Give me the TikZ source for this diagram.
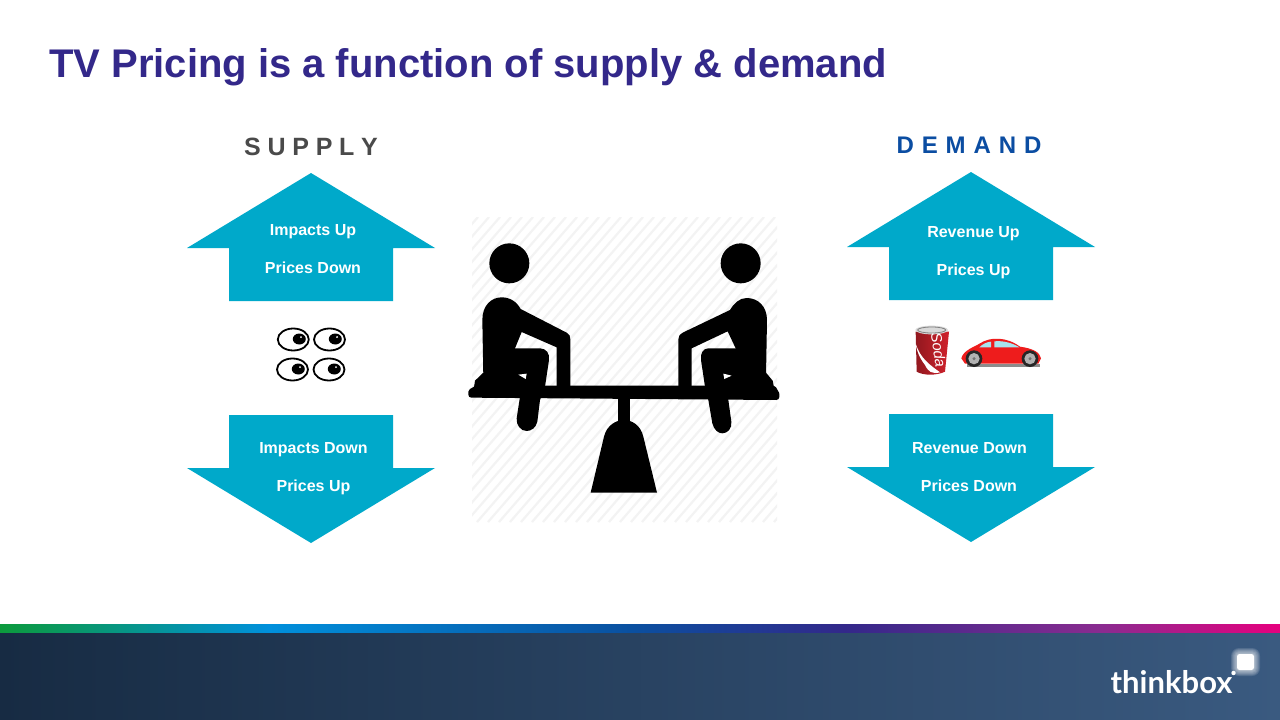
\documentclass[tikz,border=0pt]{standalone}
\usepackage{fontspec}
\setmainfont{Liberation Sans}
\newfontfamily\logofont{Lato}
\usetikzlibrary{calc}
\definecolor{titleblue}{HTML}{33288A}
\definecolor{arrowcyan}{HTML}{00A9CA}
\definecolor{supplygrey}{HTML}{4A4A4A}
\definecolor{demandblue}{HTML}{0B4DA2}
\definecolor{hatchgrey}{HTML}{F3F3F3}
\definecolor{canred}{HTML}{D0222C}
\definecolor{carred}{HTML}{EE1C1C}
\definecolor{windowblue}{HTML}{A8E4EE}
\definecolor{barA}{HTML}{0C9A3C}
\definecolor{barB}{HTML}{0090DC}
\definecolor{barC}{HTML}{0A50A0}
\definecolor{barD}{HTML}{33288A}
\definecolor{barE}{HTML}{8A2B90}
\definecolor{barF}{HTML}{E6007E}
\definecolor{bandA}{HTML}{172B43}
\definecolor{bandB}{HTML}{3A5A80}
\pgfdeclarehorizontalshading{barshade}{100bp}{
  color(0bp)=(barA);
  color(25bp)=(barA);
  color(35.5bp)=(barB);
  color(49.6bp)=(barC);
  color(58bp)=(barD);
  color(68bp)=(barE);
  color(75bp)=(barF);
  color(100bp)=(barF)}
\pgfdeclarehorizontalshading{bandshade}{100bp}{
  color(0bp)=(bandA);
  color(25bp)=(bandA);
  color(75bp)=(bandB);
  color(100bp)=(bandB)}
\tikzset{
  title text/.style={text=titleblue,font=\fontsize{40}{44}\bfseries\selectfont,anchor=base west,inner sep=0pt},
  head text/.style={font=\fontsize{25}{28}\bfseries\selectfont,inner sep=0pt,anchor=base},
  arrowlabel/.style={text=white,font=\fontsize{16}{18}\bfseries\selectfont,inner sep=0pt,anchor=base},
  block arrow/.style={fill=arrowcyan,draw=none},
  icon/.style={fill=black,draw=none},
  eye/.style={draw=black,line width=1.8pt,fill=white},
  pupil/.style={fill=black,draw=none}
}
\begin{document}
\begin{tikzpicture}[x=1pt,y=-1pt]
\useasboundingbox (0,0) rectangle (1280,720);
\fill[white] (0,0) rectangle (1280,720);
% title
\node[title text] (title) at (49,77) {TV Pricing is a function of supply \& demand};
\node[head text,text=supplygrey] (supply) at (311,155) {S\hspace{0.27em}U\hspace{0.27em}P\hspace{0.27em}P\hspace{0.27em}L\hspace{0.27em}Y};
\node[head text,text=demandblue,font=\fontsize{24}{28}\bfseries\selectfont] (demand) at (969,153.5) {D\hspace{0.33em}E\hspace{0.33em}M\hspace{0.33em}A\hspace{0.33em}N\hspace{0.33em}D};
% arrows
\fill[block arrow] (311,173) -- (435,248) -- (393,248) -- (393,301) -- (229,301) -- (229,248) -- (187,248) -- cycle;
\fill[block arrow] (311,543) -- (435,468) -- (393,468) -- (393,415) -- (229,415) -- (229,468) -- (187,468) -- cycle;
\fill[block arrow] (971,172) -- (1095,247) -- (1053,247) -- (1053,300) -- (889,300) -- (889,247) -- (847,247) -- cycle;
\fill[block arrow] (971,542) -- (1095,467) -- (1053,467) -- (1053,414) -- (889,414) -- (889,467) -- (847,467) -- cycle;
\node[arrowlabel] (l1) at (313,235.5) {Impacts Up};
\node[arrowlabel] (l2) at (313,273.5) {Prices Down};
\node[arrowlabel] (l3) at (313.5,453.5) {Impacts Down};
\node[arrowlabel] (l4) at (313.5,491.5) {Prices Up};
\node[arrowlabel] (r1) at (973.5,237.5) {Revenue Up};
\node[arrowlabel] (r2) at (973.5,275.5) {Prices Up};
\node[arrowlabel] (r3) at (969.5,453.5) {Revenue Down};
\node[arrowlabel] (r4) at (969,491.5) {Prices Down};
% hatch
\begin{scope}
\clip (472,217) rectangle (777,522);
\foreach \i in {0,11,...,605}{
  \draw[hatchgrey,line width=2.2pt] ({472-270+\i},522) -- ({472-270+\i+265},217);
}
\end{scope}
% seesaw
\begin{scope}[shift={(460,210)},x=0.33333pt,y=-0.33333pt]
\fill[icon] (148,160) circle [radius=60];
\fill[icon] (842,160) circle [radius=60];
% plank
\filldraw[icon,draw=black,line width=6pt,line join=round] (34,554) -- (34,545) -- (50,536) -- (940,536) -- (949,552) -- (949,561) -- cycle;
% post and base
\fill[icon] (473,560) rectangle (510,650);
\fill[icon] (392,848) -- (432,680) .. controls (440,645) and (470,630) .. (491,630) .. controls (515,630) and (542,645) .. (550,680) -- (591,848) -- cycle;
% left person: torso and arm
\fill[icon] (67,330) .. controls (67,285) and (95,262) .. (125,262)
  .. controls (150,262) and (170,275) .. (182,297) -- (320,368) .. controls (328,372) and (331,378) .. (331,388)
  -- (331,530) -- (290,530) -- (290,412) -- (185,366) -- (165,415) -- (165,500) -- (70,500) -- cycle;
% left leg
\fill[icon] (160,415) -- (240,415) .. controls (258,415) and (270,430) .. (267,450) -- (255,530) -- (240,570) -- (232,635)
  .. controls (228,655) and (212,663) .. (200,663) .. controls (182,663) and (168,645) .. (170,625)
  -- (180,560) -- (190,505) -- (160,490) -- cycle;
% left hip
\fill[icon] (70,488) -- (45,512) -- (42,532) -- (240,532) -- (205,488) -- cycle;
\fill[white] (175,494) -- (200,491) -- (197,507) -- cycle;
% right person: torso and arm
\fill[icon] (921,330) .. controls (921,290) and (895,264) .. (860,264)
  .. controls (838,264) and (822,280) .. (810,300) -- (668,368) .. controls (660,372) and (655,378) .. (655,388)
  -- (655,530) -- (695,530) -- (695,415) -- (803,364) -- (827,415) -- (827,500) -- (918,500) -- cycle;
% right leg
\fill[icon] (830,415) -- (745,415) .. controls (730,415) and (720,430) .. (723,450) -- (735,530) -- (745,570) -- (757,640)
  .. controls (762,660) and (775,670) .. (787,670) .. controls (803,670) and (817,655) .. (814,635)
  -- (805,570) -- (795,505) -- (830,490) -- cycle;
% right hip
\fill[icon] (918,488) -- (938,512) -- (942,532) -- (745,532) -- (785,488) -- cycle;
\fill[white] (790,491) -- (815,497) -- (793,507) -- cycle;
\end{scope}
% eyes
\draw[eye] (293.3,339.5) ellipse [x radius=15.5,y radius=11];
\draw[eye] (329.5,339.5) ellipse [x radius=15.5,y radius=11];
\draw[eye] (292.5,369.5) ellipse [x radius=15.5,y radius=11];
\draw[eye] (329,369.5) ellipse [x radius=15.5,y radius=11];
\fill[pupil] (299.3,339) ellipse [x radius=6.5,y radius=5.5];
\fill[pupil] (335.3,339) ellipse [x radius=6.5,y radius=5.5];
\fill[pupil] (298.3,369) ellipse [x radius=6.5,y radius=5.5];
\fill[pupil] (334.3,369) ellipse [x radius=6.5,y radius=5.5];
\fill[white] (301,337) circle [radius=1] (337,337) circle [radius=1] (300,367) circle [radius=1] (336,367) circle [radius=1];
% can and car
\begin{scope}[shift={(900,315)},x=0.33333pt,y=-0.33333pt]
% can
\shade[left color=canred!70!black,right color=canred] (47,50) -- (147,50) -- (135,170) .. controls (110,182) and (70,182) .. (50,170) -- cycle;
\fill[white] (47,85) .. controls (60,130) and (90,150) .. (120,172) .. controls (95,178) and (85,170) .. (75,150) .. controls (60,130) and (50,110) .. (47,85) -- cycle;
\fill[black!15] (95,45) ellipse [x radius=49,y radius=13];
\draw[black!50,line width=0.8pt] (95,45) ellipse [x radius=42,y radius=9];
\node[text=white,rotate=-82,inner sep=0pt,font=\fontsize{15}{16}\itshape\selectfont] (soda) at (116,105) {Soda};
% car shadow
\fill[black!45] (200,146) rectangle (420,156);
% car body
\fill[carred] (184,130) .. controls (190,105) and (225,95) .. (240,85) .. controls (270,65) and (320,65) .. (360,95)
  .. controls (395,100) and (420,110) .. (423,130) -- (415,146) -- (195,146) -- cycle;
\fill[windowblue] (238,97) .. controls (248,87) and (260,81) .. (273,80) -- (273,97) -- cycle;
\fill[windowblue] (283,79) .. controls (310,76) and (340,85) .. (358,97) -- (283,97) -- cycle;
\foreach \cx in {222,390}{
  \fill[black!85] (\cx,131) circle [radius=25];
  \fill[black!30] (\cx,131) circle [radius=17];
  \fill[black!55] (\cx,131) circle [radius=5];
}
\end{scope}
% bottom bars
\shade[shading=barshade] (0,624) rectangle (1280,634);
\shade[shading=bandshade] (0,633.5) rectangle (1280,720);
% logo
\foreach \g in {6,5,4,3,2,1}{
  \fill[white,opacity=0.13,rounded corners={(\g+2)*1pt}] ({1237-\g},{654-\g}) rectangle ({1254+\g},{670+\g});
}
\fill[white,rounded corners=2.5pt] (1237,654) rectangle (1254,670);
\fill[white] (1233.5,673) circle [radius=2.2];
\node[text=white,font=\logofont\bfseries\fontsize{31}{36}\selectfont,inner sep=0pt,anchor=base west] (logo) at (1110.5,693) {thinkbox};
\end{tikzpicture}
\end{document}
